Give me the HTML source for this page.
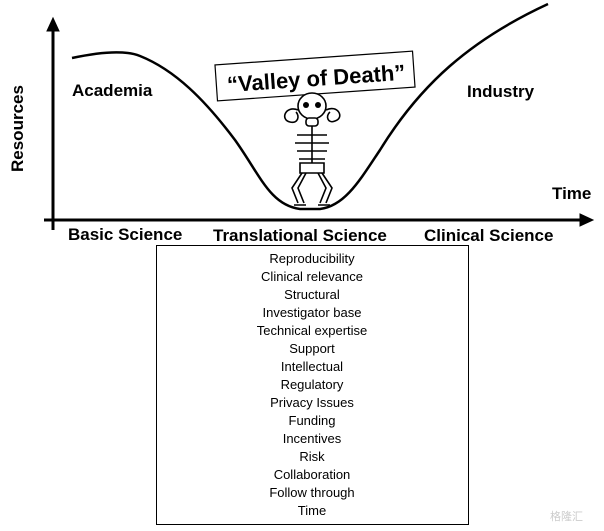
<!DOCTYPE html>
<html><head><style>
body{margin:0;background:#fff;width:604px;height:531px;overflow:hidden;font-family:"Liberation Sans",Arial,sans-serif}
</style></head><body>
<svg width="604" height="531" viewBox="0 0 604 531" xmlns="http://www.w3.org/2000/svg" style="position:absolute;left:0;top:0">
<g stroke="#000" fill="none">
<line x1="53" y1="30" x2="53" y2="230" stroke-width="3"/>
<polygon points="47,31 53,18 59,31" fill="#000"/>
<line x1="44" y1="220" x2="582" y2="220" stroke-width="3"/>
<polygon points="580,214 593,220 580,226" fill="#000"/>
<path d="M72,58 C100,52 125,50 140,56 C175,70 205,100 235,140 C260,175 270,205 300,209 L320,209 C345,206 360,180 380,150 C420,85 470,40 548,4" stroke-width="2.5"/>
<g transform="rotate(-4 315 76)">
<rect x="216" y="58" width="198" height="36" fill="#fff" stroke-width="1.2"/>
</g>
<g stroke-width="1.6" fill="#fff">
<ellipse cx="312" cy="106" rx="14" ry="13"/>
<path d="M298,110 C285,105 280,120 290,122 C298,124 300,116 296,112"/>
<path d="M326,110 C338,104 345,118 335,121 C328,124 325,116 330,112"/>
<rect x="306" y="118" width="12" height="8" rx="3"/>
<path d="M297,135 h30 M295,143 h34 M297,151 h30 M299,159 h26"/>
<line x1="312" y1="126" x2="312" y2="163"/>
<path d="M300,163 h24 v10 h-24 z"/>
<path d="M302,173 L292,188 L298,203 M322,173 L332,188 L326,203"/>
<path d="M306,173 L298,188 L304,203 M318,173 L326,188 L320,203"/>
<path d="M294,205 h12 M318,205 h12"/>
</g>
<g fill="#000" stroke="none"><circle cx="306" cy="105" r="3"/><circle cx="318" cy="105" r="3"/></g>
<rect x="156.5" y="245.5" width="312" height="279" stroke-width="1"/>
</g>
<text x="316" y="86" text-anchor="middle" font-size="22" font-weight="bold" transform="rotate(-4 315 76)">“Valley of Death”</text>
<g font-weight="bold" font-size="17">
<text x="72" y="96">Academia</text>
<text x="467" y="97">Industry</text>
<text x="552" y="199">Time</text>
<text x="68" y="240">Basic Science</text>
<text x="213" y="241">Translational Science</text>
<text x="424" y="241">Clinical Science</text>
<text transform="translate(23,172) rotate(-90)">Resources</text>
</g>
<g font-size="13" text-anchor="middle">
<text x="312" y="263">Reproducibility</text>
<text x="312" y="281">Clinical relevance</text>
<text x="312" y="299">Structural</text>
<text x="312" y="317">Investigator base</text>
<text x="312" y="335">Technical expertise</text>
<text x="312" y="353">Support</text>
<text x="312" y="371">Intellectual</text>
<text x="312" y="389">Regulatory</text>
<text x="312" y="407">Privacy Issues</text>
<text x="312" y="425">Funding</text>
<text x="312" y="443">Incentives</text>
<text x="312" y="461">Risk</text>
<text x="312" y="479">Collaboration</text>
<text x="312" y="497">Follow through</text>
<text x="312" y="515">Time</text>
</g>
<text x="550" y="520" font-size="11" fill="#ccc" font-family="'Liberation Sans','Noto Sans CJK SC',sans-serif">格隆汇</text>
</svg>
</body></html>
